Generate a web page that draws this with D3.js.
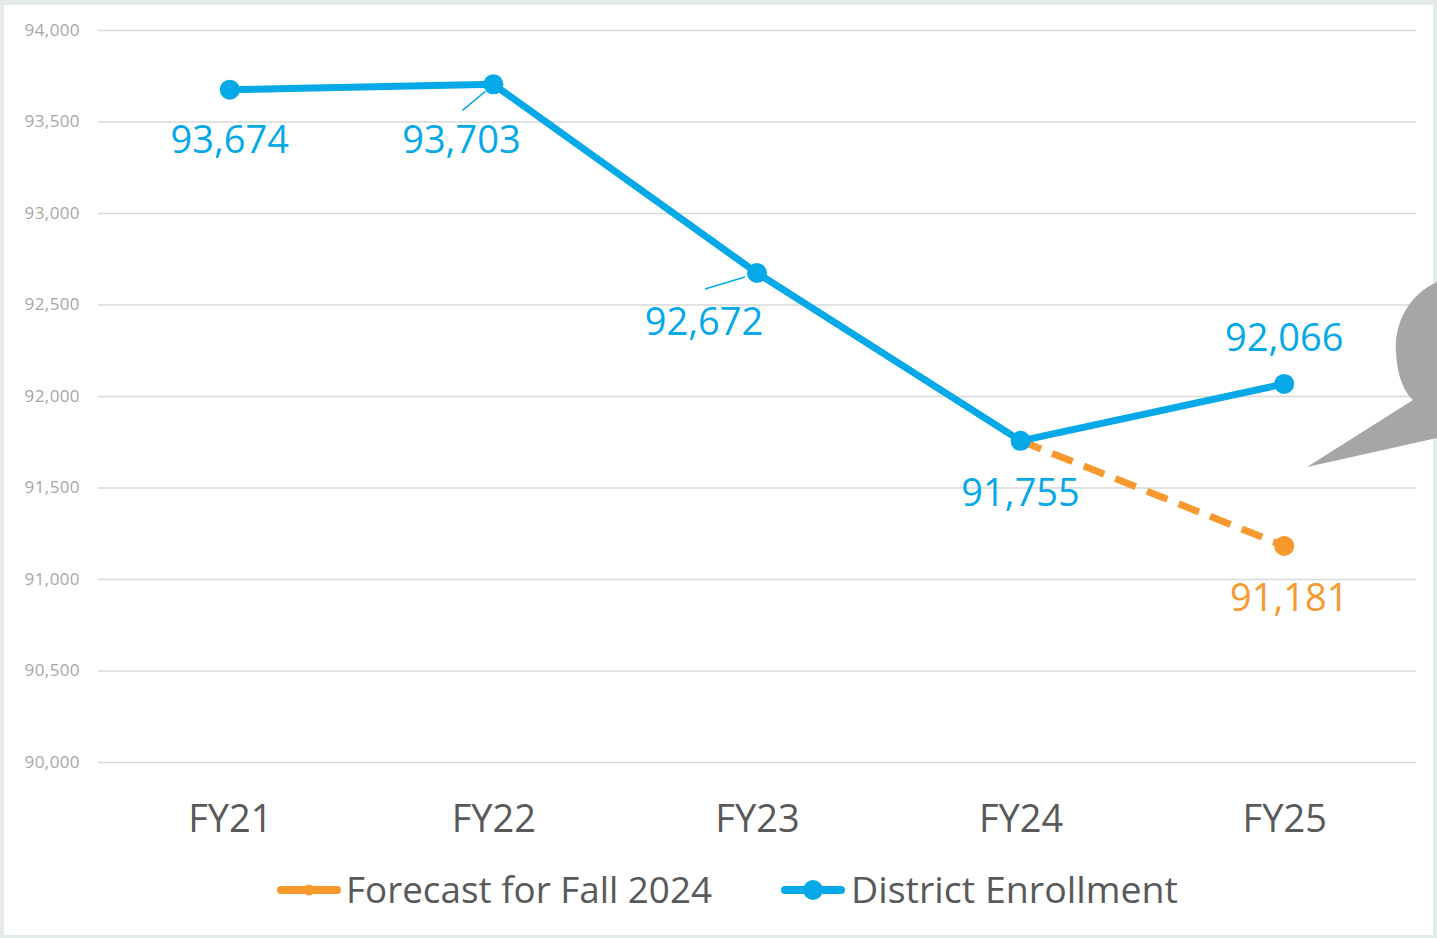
<!DOCTYPE html>
<html><head><meta charset="utf-8">
<script src="https://cdn.jsdelivr.net/npm/d3@7"></script>
<style>html,body{margin:0;padding:0;background:#fff;}svg{display:block;}</style>
</head><body>
<svg id="c" width="1437" height="938"></svg>
<script>
const categories = ["FY21","FY22","FY23","FY24","FY25"];
const enrollment = [93674, 93703, 92672, 91755, 92066];
const forecast = [null, null, null, 91755, 91181];
const yTicks = [90000, 90500, 91000, 91500, 92000, 92500, 93000, 93500, 94000];
const seriesNames = ["Forecast for Fall 2024", "District Enrollment"];
const forecastLabels = [null, null, null, null, "91,181"];

const blue = "#05a9e8", orange = "#f8992e";
const svg = d3.select("#c");
svg.append("rect").attr("width",1437).attr("height",938).attr("fill","#e2ebe9");
svg.append("rect").attr("x",4).attr("y",5).attr("width",1429).attr("height",930).attr("fill","#fff");

const x = d3.scalePoint().domain(categories).range([98,1416]).padding(0.5);
const y = d3.scaleLinear().domain([90000,94000]).range([762,30]);

// gridlines
const yAxis = d3.axisLeft(y).tickValues(yTicks).tickSize(-1318).tickPadding(18).tickFormat(d3.format(","));
const ga = svg.append("g").attr("transform","translate(98,0)").call(yAxis);
ga.select(".domain").remove();
ga.selectAll(".tick line").attr("stroke","#d9d9d9").attr("stroke-width",1.5);
ga.selectAll(".tick text").attr("fill","#a6a6a6").style("font-family","Open Sans").style("font-size","17px").style("letter-spacing","0.4px");

// x axis labels
const xAxis = d3.axisBottom(x).tickSize(0).tickPadding(0);
const gx = svg.append("g").attr("transform","translate(0,805)").call(xAxis);
gx.select(".domain").remove();
gx.selectAll(".tick text").attr("fill","#595959").style("font-family","Open Sans").style("font-size","38px").attr("dy","0.71em");

// callout shape
svg.append("path").attr("d","M1437,282 C1410,294 1394,322 1396,352 C1397,376 1404,392 1413,400 L1307,467 L1437,438 Z").attr("fill","#a6a6a6");

// forecast dashed line
const fData = categories.map((c,i)=>({c, v: forecast[i]})).filter(d=>d.v!=null);
const line = d3.line().x(d=>x(d.c)).y(d=>y(d.v));
svg.append("path").datum(fData).attr("d",line).attr("fill","none").attr("stroke",orange).attr("stroke-width",7).attr("stroke-dasharray","22,12");
svg.append("circle").attr("cx",x(fData[1].c)).attr("cy",y(fData[1].v)).attr("r",10).attr("fill",orange);

// enrollment line
const eData = categories.map((c,i)=>({c, v: enrollment[i]}));
svg.append("path").datum(eData).attr("d",line).attr("fill","none").attr("stroke",blue).attr("stroke-width",7).attr("stroke-linejoin","round");
svg.selectAll(".ept").data(eData).enter().append("circle").attr("cx",d=>x(d.c)).attr("cy",d=>y(d.v)).attr("r",10).attr("fill",blue);

// leader lines
const leaders = [{i:1, dx1:-31, dy1:26, dx2:-8, dy2:7},{i:2, dx1:-52, dy1:16, dx2:-12, dy2:4}];
leaders.forEach(l=>{
  const cx = x(categories[l.i]), cy = y(enrollment[l.i]);
  svg.append("line").attr("x1",cx+l.dx1).attr("y1",cy+l.dy1).attr("x2",cx+l.dx2).attr("y2",cy+l.dy2).attr("stroke",blue).attr("stroke-width",1.5);
});

// data labels
const fmt = d3.format(",");
const labelOffsets = [{dx:0,dy:63},{dx:-32,dy:69},{dx:-53,dy:62},{dx:0,dy:65},{dx:0,dy:-33}];
eData.forEach((d,i)=>{
  svg.append("text").attr("x",x(d.c)+labelOffsets[i].dx).attr("y",y(d.v)+labelOffsets[i].dy)
    .attr("text-anchor","middle").attr("fill",blue).style("font-family","Open Sans").style("font-size","38px").text(fmt(d.v));
});
svg.append("text").attr("x",x("FY25")+5).attr("y",y(forecast[4])+65).attr("text-anchor","middle").attr("fill",orange)
  .style("font-family","Open Sans").style("font-size","38px").text(forecastLabels[4]);

// legend
const leg = [{name:seriesNames[0], color:orange, x0:277, r:5.5, tx:346, w:366},{name:seriesNames[1], color:blue, x0:781, r:10, tx:851, w:327}];
leg.forEach(l=>{
  svg.append("line").attr("x1",l.x0+4).attr("x2",l.x0+60).attr("y1",890).attr("y2",890).attr("stroke",l.color).attr("stroke-width",8).attr("stroke-linecap","round");
  svg.append("circle").attr("cx",l.x0+32).attr("cy",890).attr("r",l.r).attr("fill",l.color);
  svg.append("text").attr("x",l.tx).attr("y",903).attr("fill","#595959").style("font-family","Open Sans").style("font-size","37px")
    .attr("textLength",l.w).attr("lengthAdjust","spacingAndGlyphs").text(l.name);
});
</script>
</body></html>
